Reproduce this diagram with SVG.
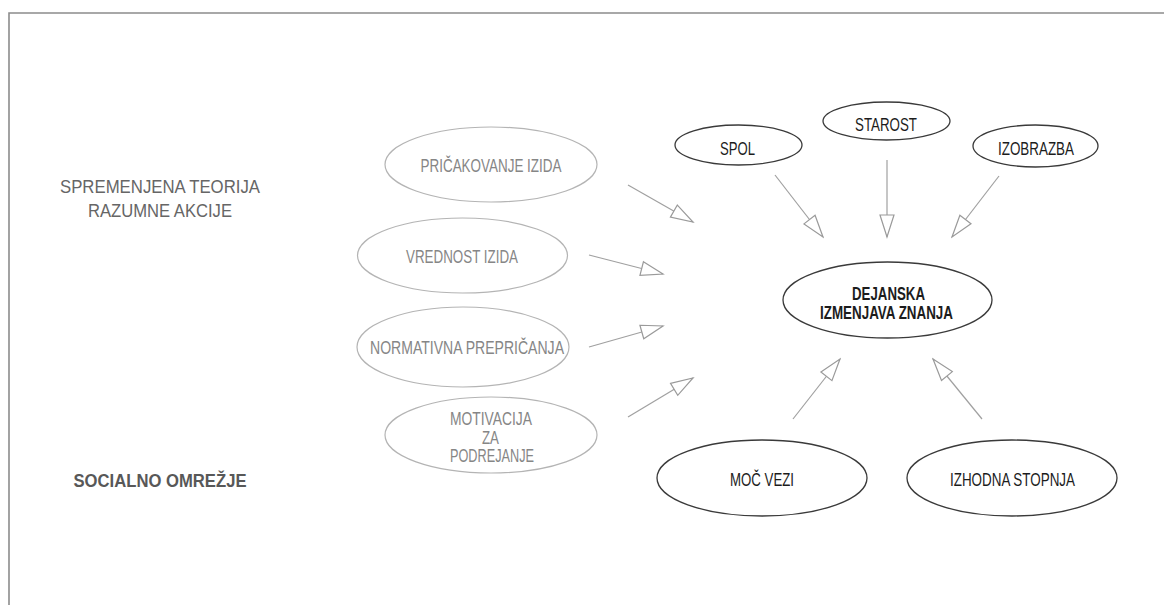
<svg xmlns="http://www.w3.org/2000/svg" width="1164" height="605" viewBox="0 0 1164 605">
  <style>
    .frame { fill: none; stroke: #8c8c8c; stroke-width: 1.6; }
    .soft ellipse { fill: #ffffff; stroke: #b4b4b4; stroke-width: 1.2; }
    .soft text { fill: #868686; }
    .firm ellipse { fill: #ffffff; stroke: #3a3a3a; stroke-width: 1.3; }
    .firm text { fill: #1c1c1c; }
    text { font-family: "Liberation Sans", Arial, sans-serif; font-size: 17.5px; text-anchor: middle; }
    .bold { font-weight: bold; }
    .heading { fill: #666666; font-size: 18px; }
    .heading-bold { fill: #585858; font-weight: bold; font-size: 18px; }
    .link { stroke: #a0a0a0; stroke-width: 1.2; fill: none; marker-end: url(#open-arrow); }
  </style>
  <defs>
    <marker id="open-arrow" markerUnits="userSpaceOnUse" markerWidth="26" markerHeight="18" viewBox="-2 -2 26 18" refX="22" refY="7" orient="auto">
      <path d="M0,0 L22,7 L0,14 Z" fill="#ffffff" stroke="#9a9a9a" stroke-width="1.2" stroke-linejoin="miter"/>
    </marker>
  </defs>

  <rect width="1164" height="605" fill="#ffffff"/>
  <!-- open frame: top and left edges -->
  <polyline class="frame" points="9,605 9,13 1164,13"/>

  <!-- section headings -->
  <g id="heading-theory">
    <text class="heading" x="160" y="192.5" textLength="200" lengthAdjust="spacingAndGlyphs">SPREMENJENA TEORIJA</text>
    <text class="heading" x="160" y="216.5" textLength="144" lengthAdjust="spacingAndGlyphs">RAZUMNE AKCIJE</text>
  </g>
  <g id="heading-network">
    <text class="heading-bold" x="160" y="486.5" textLength="173" lengthAdjust="spacingAndGlyphs">SOCIALNO OMREŽJE</text>
  </g>

  <!-- connectors -->
  <g id="connectors">
    <line class="link" x1="628" y1="185" x2="693" y2="222"/>
    <line class="link" x1="589" y1="255" x2="663" y2="274"/>
    <line class="link" x1="589" y1="347" x2="663" y2="326"/>
    <line class="link" x1="628" y1="417" x2="693" y2="378"/>
    <line class="link" x1="775" y1="175" x2="823" y2="237"/>
    <line class="link" x1="887" y1="160" x2="887" y2="237"/>
    <line class="link" x1="999" y1="176" x2="952" y2="237"/>
    <line class="link" x1="793" y1="419" x2="840" y2="359"/>
    <line class="link" x1="982" y1="419" x2="933" y2="359"/>
  </g>

  <!-- theory of reasoned action factors -->
  <g id="node-pricakovanje" class="soft">
    <ellipse cx="491" cy="164.5" rx="106" ry="37.5"/>
    <text x="491" y="171.5" textLength="141" lengthAdjust="spacingAndGlyphs">PRIČAKOVANJE IZIDA</text>
  </g>
  <g id="node-vrednost" class="soft">
    <ellipse cx="462.5" cy="255.5" rx="105" ry="37.5"/>
    <text x="462" y="262.5" textLength="112" lengthAdjust="spacingAndGlyphs">VREDNOST IZIDA</text>
  </g>
  <g id="node-normativna" class="soft">
    <ellipse cx="463" cy="347" rx="106" ry="40"/>
    <text x="467" y="353.5" textLength="194" lengthAdjust="spacingAndGlyphs">NORMATIVNA PREPRIČANJA</text>
  </g>
  <g id="node-motivacija" class="soft">
    <ellipse cx="491" cy="435" rx="106" ry="38"/>
    <text x="491" y="424.5" textLength="82" lengthAdjust="spacingAndGlyphs">MOTIVACIJA</text>
    <text x="490.5" y="443.5" textLength="17" lengthAdjust="spacingAndGlyphs">ZA</text>
    <text x="492" y="461.5" textLength="84" lengthAdjust="spacingAndGlyphs">PODREJANJE</text>
  </g>

  <!-- demographic factors -->
  <g id="node-spol" class="firm">
    <ellipse cx="738.5" cy="145" rx="63.5" ry="20"/>
    <text x="737.5" y="154.5" textLength="35" lengthAdjust="spacingAndGlyphs">SPOL</text>
  </g>
  <g id="node-starost" class="firm">
    <ellipse cx="886.5" cy="121" rx="63.5" ry="19"/>
    <text x="886" y="130.5" textLength="62" lengthAdjust="spacingAndGlyphs">STAROST</text>
  </g>
  <g id="node-izobrazba" class="firm">
    <ellipse cx="1035.5" cy="146" rx="62.5" ry="21"/>
    <text x="1036" y="154.5" textLength="76" lengthAdjust="spacingAndGlyphs">IZOBRAZBA</text>
  </g>

  <!-- outcome -->
  <g id="node-dejanska" class="firm">
    <ellipse cx="887.5" cy="300" rx="104.5" ry="38"/>
    <text class="bold" x="888.5" y="299.5" textLength="73" lengthAdjust="spacingAndGlyphs">DEJANSKA</text>
    <text class="bold" x="886.5" y="318.5" textLength="133" lengthAdjust="spacingAndGlyphs">IZMENJAVA ZNANJA</text>
  </g>

  <!-- social network factors -->
  <g id="node-moc-vezi" class="firm">
    <ellipse cx="762" cy="478" rx="105" ry="38"/>
    <text x="762" y="485.5" textLength="64" lengthAdjust="spacingAndGlyphs">MOČ VEZI</text>
  </g>
  <g id="node-izhodna" class="firm">
    <ellipse cx="1012" cy="478" rx="105" ry="38"/>
    <text x="1012.5" y="485.5" textLength="125" lengthAdjust="spacingAndGlyphs">IZHODNA STOPNJA</text>
  </g>
</svg>
